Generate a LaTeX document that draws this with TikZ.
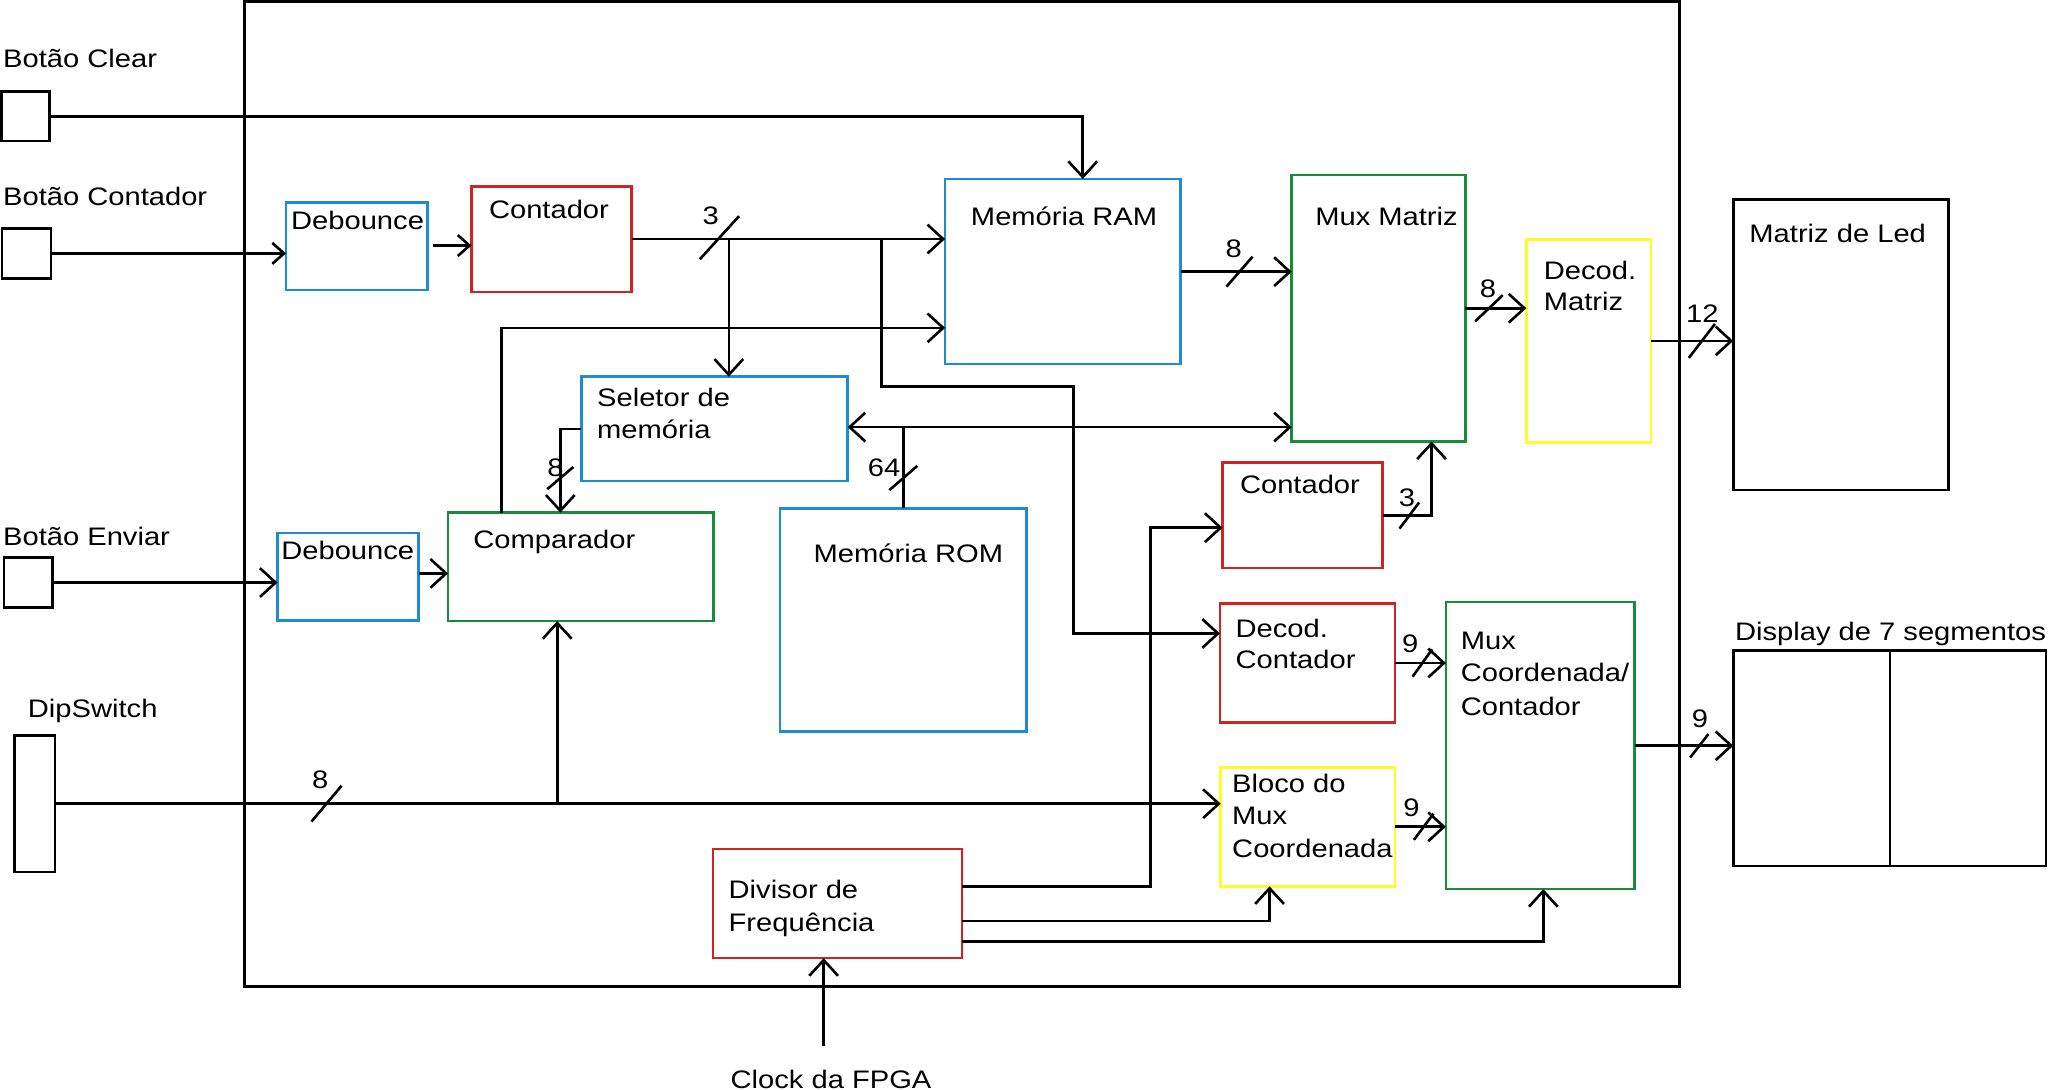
\documentclass[tikz,border=0pt]{standalone}
\usepackage{fontspec}
\setmainfont{Liberation Sans}[FakeStretch=1.15]
\usetikzlibrary{arrows.meta,fit,calc}
\definecolor{cblue}{RGB}{30,140,210}
\definecolor{cred}{RGB}{210,35,35}
\definecolor{cgreen}{RGB}{25,140,60}
\definecolor{cyellow}{RGB}{255,250,40}
\newcommand\mkbox[6]{\node[blk=#2, fit={(#3,#4) (#5,#6)}] (#1) {};}
\newcommand\busmk[4]{\draw[wire] ({#1-#3},{#2+#4}) -- ({#1+#3},{#2-#4});}
\begin{document}
\begin{tikzpicture}[x=0.5pt,y=-0.5pt,
  wire/.style={line width=1pt},
  arr/.style={wire,-{Straight Barb[length=6pt,width=11pt]}},
  sarr/.style={wire,-{Straight Barb[length=4.5pt,width=8pt]}},
  barr/.style={wire,{Straight Barb[length=6pt,width=11pt]}-{Straight Barb[length=6pt,width=11pt]}},
  blk/.style={draw=#1, line width=1pt, inner sep=0pt, outer sep=0pt},
  txt/.style={inner sep=0pt, anchor=base west, font=\fontsize{9.7}{11}\selectfont},
]
\useasboundingbox (0,0) rectangle (1568,834.5);

% outer frame
\node[blk=black, line width=1.2pt, fit={(187,1) (1286,755)}] (frame) {};

% inputs
\mkbox{bclr}{black}{1}{70}{38}{108}
\mkbox{bcnt}{black}{1.5}{175}{39}{213}
\mkbox{benv}{black}{3}{427}{40}{465}
\mkbox{dip}{black}{11}{563}{42}{667.6}

% blocks
\mkbox{deb1}{cblue}{219}{155}{327.5}{222}
\mkbox{cnt1}{cred}{361}{142.6}{483.5}{223.6}
\mkbox{ram}{cblue}{723.6}{137}{904}{278.6}
\mkbox{muxm}{cgreen}{989}{134}{1122}{338}
\mkbox{decm}{cyellow}{1168.6}{183.6}{1264}{338.8}
\mkbox{led}{black}{1327}{152.6}{1491.6}{375.3}
\mkbox{sel}{cblue}{445}{288.4}{649}{368.3}
\mkbox{comp}{cgreen}{343}{392.5}{546.2}{475.5}
\mkbox{deb2}{cblue}{212.5}{408}{320.5}{475}
\mkbox{rom}{cblue}{597.2}{389.2}{786}{560}
\mkbox{cnt2}{cred}{936}{354}{1058.6}{435}
\mkbox{deccnt}{cred}{934}{462}{1068}{553}
\mkbox{bloco}{cyellow}{934.6}{587.6}{1068}{678.6}
\mkbox{muxc}{cgreen}{1107}{461}{1251.6}{680.7}
\mkbox{div}{cred}{546}{650}{736.6}{733.6}
\mkbox{disp}{black}{1327}{497.8}{1566.5}{663}
\draw[wire] (disp.north -| 1447,0) -- (disp.south -| 1447,0);

% texts
\node[txt] (tclr) at (2,52) {Botão Clear};
\node[txt] (tcnt) at (2,157) {Botão Contador};
\node[txt] (tenv) at (2,418) {Botão Enviar};
\node[txt] (tdip) at (21,549) {DipSwitch};
\node[txt] (tdeb1) at (222.5,175.6) {Debounce};
\node[txt] (tcnt1) at (374,167) {Contador};
\node[txt] (tram) at (743,173) {Memória RAM};
\node[txt] (tmuxm) at (1006.6,173) {Mux Matriz};
\node[txt] (tdecm1) at (1181.6,213.7) {Decod.};
\node[txt] (tdecm2) at (1181.6,238) {Matriz};
\node[txt] (tled) at (1339,186) {Matriz de Led};
\node[txt] (tsel1) at (456.8,311.4) {Seletor de};
\node[txt] (tsel2) at (456.8,336) {memória};
\node[txt] (tcomp) at (362,420) {Comparador};
\node[txt] (tdeb2) at (215,428) {Debounce};
\node[txt] (trom) at (622.6,430.8) {Memória ROM};
\node[txt] (tcnt2) at (949,378) {Contador};
\node[txt] (tdc1) at (945.6,487.7) {Decod.};
\node[txt] (tdc2) at (945.6,512) {Contador};
\node[txt] (tmc1) at (1118,497) {Mux};
\node[txt] (tmc2) at (1118,522) {Coordenada/};
\node[txt] (tmc3) at (1118,547.5) {Contador};
\node[txt] (tdisp) at (1328,490) {Display de 7 segmentos};
\node[txt] (tbl1) at (943,606.8) {Bloco do};
\node[txt] (tbl2) at (943,631.5) {Mux};
\node[txt] (tbl3) at (943,656.8) {Coordenada};
\node[txt] (tdiv1) at (557.5,688) {Divisor de};
\node[txt] (tdiv2) at (557.5,713) {Frequência};
\node[txt] (tclk) at (559,833) {Clock da FPGA};

% bus width labels
\node[txt] (w1) at (537.6,172) {3};
\node[txt] (w2) at (938,197) {8};
\node[txt] (w3) at (1132.6,228) {8};
\node[txt] (w4) at (1290.6,247) {12};
\node[txt] (w5) at (418.6,365) {8};
\node[txt] (w6) at (664,365) {64};
\node[txt] (w7) at (1070.6,388) {3};
\node[txt] (w8) at (1073,499.4) {9};
\node[txt] (w9) at (1074,625) {9};
\node[txt] (w10) at (1295,557) {9};
\node[txt] (w11) at (238.5,604) {8};

% connectors
\draw[arr] (bclr.east) -| (ram.north -| 829,0);
\draw[sarr] (bcnt.east) -- (deb1.west |- bcnt.east);
\draw[sarr] ($(deb1.east |- 0,188)+(4,0)$) -- (cnt1.west |- 0,188);
\draw[arr] (cnt1.east |- 0,183) -- (ram.west |- 0,183);
\coordinate (j1) at (558,183);
\draw[arr] (j1) -- (sel.north -| j1);
\coordinate (j2) at (675,183);
\draw[arr] (j2) |- (822,296) |- (deccnt.west |- 0,485);
\draw[arr] (comp.north -| 384,0) |- (ram.west |- 0,251);
\draw[arr] (ram.east |- 0,208) -- (muxm.west |- 0,208);
\draw[barr] (sel.east |- 0,327) -- (muxm.west |- 0,327);
\coordinate (j3) at (691.6,327);
\draw[wire] (j3) -- (rom.north -| j3);
\draw[arr] (sel.west |- 0,328.5) -| (comp.north -| 429,0);
\draw[arr] (benv.east) -- (deb2.west |- benv.east);
\draw[arr] (deb2.east |- 0,439) -- (comp.west |- 0,439);
\draw[arr] (dip.east) -- (bloco.west |- dip.east);
\coordinate (j4) at (426.6,615.3);
\draw[arr] (j4) -- (comp.south -| j4);
\coordinate (clk) at (630.6,801);
\draw[arr] (clk) -- (div.south -| clk);
\draw[arr] (div.east |- 0,678.5) -| (881,404) -- (cnt2.west |- 0,404);
\draw[arr] (div.east |- 0,705) -| (bloco.south -| 972,0);
\draw[arr] (div.east |- 0,721) -| (muxc.south -| 1181.6,0);
\draw[arr] (cnt2.east |- 0,394.7) -| (muxm.south -| 1096,0);
\draw[arr] (muxm.east |- 0,236) -- (decm.west |- 0,236);
\draw[arr] (decm.east |- 0,261) -- (led.west |- 0,261);
\draw[arr] (deccnt.east |- 0,507.6) -- (muxc.west |- 0,507.6);
\draw[arr] (bloco.east |- 0,633) -- (muxc.west |- 0,633);
\draw[arr] (muxc.east |- 0,571) -- (disp.west |- 0,571);

% bus slashes
\busmk{550.8}{182}{15}{16.5}
\busmk{949}{208}{10}{11.5}
\busmk{1140}{236}{10.5}{10}
\busmk{1303}{261}{10}{13}
\busmk{429}{366}{10}{8.5}
\busmk{691.6}{366}{10.7}{9.3}
\busmk{1079}{394.7}{7.5}{10}
\busmk{1089}{507.6}{7.5}{10.5}
\busmk{1090}{633}{7.5}{10}
\busmk{1301}{571}{7}{9}
\busmk{250}{615.3}{11.5}{13.7}
\end{tikzpicture}
\end{document}
